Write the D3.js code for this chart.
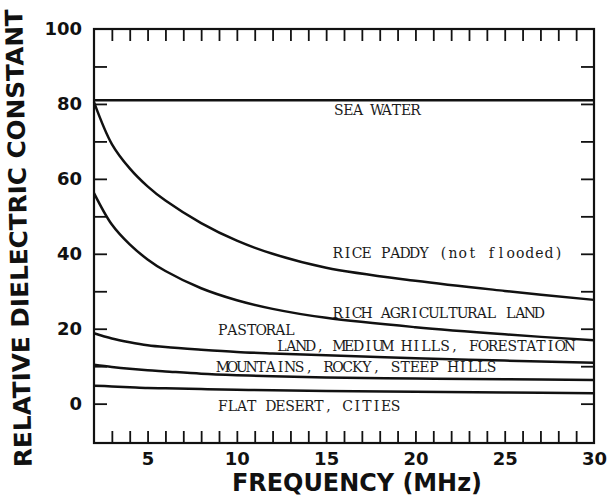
<!DOCTYPE html>
<html>
<head>
<meta charset="utf-8">
<script src="https://cdn.jsdelivr.net/npm/d3@7"></script>
<style>
  body { margin: 0; background: #fff; }
  svg { display: block; }
</style>
</head>
<body>
<div id="viz"></div>
<script>
// frequency samples (MHz)
const freqs = [2, 3, 4, 5, 6, 8, 10, 12, 15, 20, 25, 30]

const seaWater         = [81, 81, 81, 81, 81, 81, 81, 81, 81, 81, 81, 81]
const ricePaddy        = [80.5, 69.3, 62.8, 58, 54.2, 48.2, 43.5, 40, 36.3, 32.8, 30.1, 27.7]
const richAgricultural = [56.2, 47.8, 42.5, 38.5, 35.4, 30.8, 27.6, 25.3, 22.9, 20.4, 18.5, 16.9]
const pastoral         = [18.8, 17.4, 16.4, 15.6, 15.1, 14.4, 13.8, 13.4, 12.9, 12.1, 11.5, 10.9]
const mountains        = [10.4, 9.8, 9.3, 8.9, 8.6, 8.0, 7.6, 7.3, 7.0, 6.7, 6.5, 6.3]
const flatDesert       = [4.8, 4.6, 4.4, 4.2, 4.1, 3.9, 3.7, 3.6, 3.4, 3.2, 3.0, 2.8]

const xLabels = [5, 10, 15, 20, 25, 30]
const yLabels = [0, 20, 40, 60, 80, 100]

const curveLabels = [
    'SEA WATER',
    'RICE PADDY (not flooded)',
    'RICH AGRICULTURAL LAND',
    'PASTORAL',
    'LAND, MEDIUM HILLS, FORESTATION',
    'MOUNTAINS, ROCKY, STEEP HILLS',
    'FLAT DESERT, CITIES'
]

render = () => {
    const width = 611,
        height = 498

    const margin = { top: 29, right: 17, bottom: 55, left: 94 },
        innerWidth = 594 - margin.left,
        innerHeight = 443 - margin.top

    const svg = d3.select('#viz').append('svg')
        .attr('width', width)
        .attr('height', height)
        .attr('viewBox', [0, 0, width, height])

    const x = d3.scaleLinear()
        .domain([2, 30])
        .range([margin.left, margin.left + innerWidth])

    const y = d3.scaleLinear()
        .domain([-10.5, 100])
        .range([margin.top + innerHeight, margin.top])

    const tickFont = 'DejaVu Sans, sans-serif'

    // minor ticks, all pointing into the frame
    const minorX = d3.range(3, 30)
    const minorY = d3.range(0, 100, 10)

    const styleTicks = g => {
        g.select('.domain').remove()
        g.selectAll('line').attr('stroke', '#111').attr('stroke-width', 1.8)
    }

    svg.append('g')
        .attr('transform', `translate(0, ${y(-10.5)})`)
        .call(d3.axisBottom(x).tickValues(minorX).tickSize(-12).tickFormat(''))
        .call(styleTicks)

    svg.append('g')
        .attr('transform', `translate(0, ${y(100)})`)
        .call(d3.axisTop(x).tickValues(minorX).tickSize(-12).tickFormat(''))
        .call(styleTicks)

    svg.append('g')
        .attr('transform', `translate(${x(2)}, 0)`)
        .call(d3.axisLeft(y).tickValues(minorY).tickSize(-13).tickFormat(''))
        .call(styleTicks)

    svg.append('g')
        .attr('transform', `translate(${x(30)}, 0)`)
        .call(d3.axisRight(y).tickValues(minorY).tickSize(-13).tickFormat(''))
        .call(styleTicks)

    // tick labels
    const xLabelG = svg.append('g')
        .attr('transform', `translate(0, ${y(-10.5)})`)
        .call(d3.axisBottom(x).tickValues(xLabels).tickSize(0).tickPadding(9))
    xLabelG.select('.domain').remove()
    xLabelG.selectAll('text')
        .attr('font-family', tickFont)
        .attr('font-weight', 'bold')
        .attr('font-size', 18)
        .attr('fill', '#111')

    const yLabelG = svg.append('g')
        .attr('transform', `translate(${x(2)}, 0)`)
        .call(d3.axisLeft(y).tickValues(yLabels).tickSize(0).tickPadding(12))
    yLabelG.select('.domain').remove()
    yLabelG.selectAll('text')
        .attr('font-family', tickFont)
        .attr('font-weight', 'bold')
        .attr('font-size', 18)
        .attr('fill', '#111')

    // frame
    svg.append('rect')
        .attr('x', x(2))
        .attr('y', y(100))
        .attr('width', x(30) - x(2))
        .attr('height', y(-10.5) - y(100))
        .attr('fill', 'none')
        .attr('stroke', '#111')
        .attr('stroke-width', 2.2)

    // curves
    const series = [seaWater, ricePaddy, richAgricultural, pastoral, mountains, flatDesert]

    const line = d3.line()
        .x((d, i) => x(freqs[i]))
        .y(d => y(d))
        .curve(d3.curveCatmullRom.alpha(0.5))

    svg.selectAll('path.curve').data(series)
        .enter()
        .append('path')
        .attr('class', 'curve')
        .attr('d', line)
        .attr('fill', 'none')
        .attr('stroke', '#111')
        .attr('stroke-width', 2.5)

    // curve captions (left edge, baseline in pixels), typewriter pitch 9.6px
    const captionPos = [
        [334, 115], [333, 258], [333, 318], [218, 335],
        [277, 351], [218, 372], [218, 411]
    ]
    const pitch = 9.6

    svg.selectAll('text.caption').data(curveLabels)
        .enter()
        .append('text')
        .attr('class', 'caption')
        .attr('x', (d, i) => d.split('').map((c, k) => (captionPos[i][0] + pitch * (k + 0.5)).toFixed(1)).join(' '))
        .attr('y', (d, i) => captionPos[i][1])
        .attr('text-anchor', 'middle')
        .attr('font-family', 'DejaVu Serif, serif')
        .attr('font-size', 14)
        .attr('fill', '#1a1a1a')
        .style('white-space', 'pre')
        .text(d => d)

    // axis titles
    svg.append('text')
        .attr('transform', 'translate(27, 238) rotate(-91.2)')
        .attr('text-anchor', 'middle')
        .attr('font-family', tickFont)
        .attr('font-weight', 'bold')
        .attr('font-size', 24)
        .attr('textLength', 458)
        .attr('lengthAdjust', 'spacingAndGlyphs')
        .attr('fill', '#111')
        .text('RELATIVE DIELECTRIC CONSTANT')

    svg.append('text')
        .attr('x', 357)
        .attr('y', 491)
        .attr('text-anchor', 'middle')
        .attr('font-family', tickFont)
        .attr('font-weight', 'bold')
        .attr('font-size', 25)
        .attr('textLength', 250)
        .attr('lengthAdjust', 'spacingAndGlyphs')
        .attr('fill', '#111')
        .text('FREQUENCY (MHz)')
}

render()
</script>
</body>
</html>
